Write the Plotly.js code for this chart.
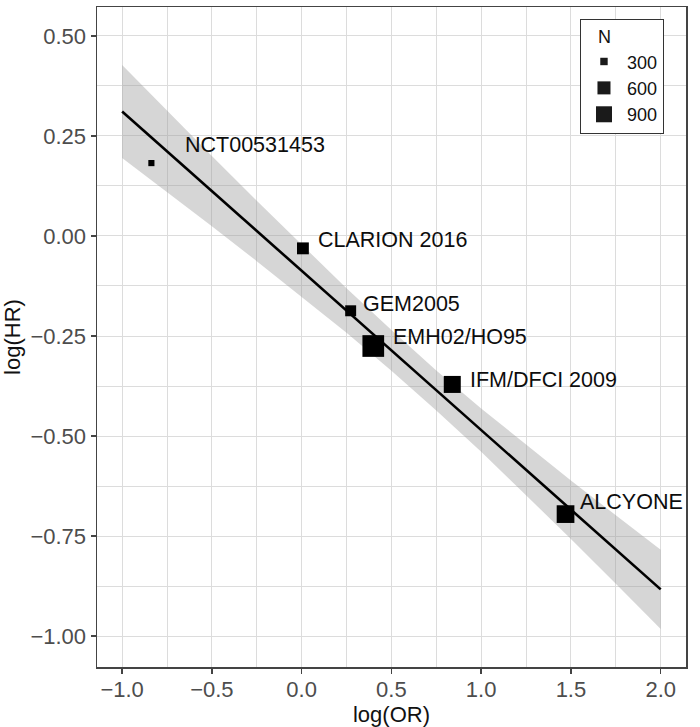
<!DOCTYPE html>
<html>
<head>
<meta charset="utf-8">
<script src="https://cdn.plot.ly/plotly-3.0.1.min.js"></script>
<style>
  html, body { margin: 0; padding: 0; background: #ffffff; }
  #chart { width: 700px; height: 727px; }
</style>
</head>
<body>
<div id="chart"></div>
<script>
// ---- Data ----
var trials = ["NCT00531453", "CLARION 2016", "GEM2005", "EMH02/HO95", "IFM/DFCI 2009", "ALCYONE"];
var logOR  = [-0.837, 0.007, 0.273, 0.399, 0.839, 1.470];
var logHR  = [0.182, -0.031, -0.187, -0.275, -0.371, -0.695];
var sampleN = [290, 590, 530, 1550, 1020, 1090];

// fitted line and its confidence band
var bandX     = [-1.0, -0.75, -0.5, -0.25, 0.0, 0.25, 0.5, 0.75, 1.0, 1.25, 1.5, 1.75, 2.0];
var fitY      = [0.311, 0.2115, 0.112, 0.0125, -0.087, -0.1865, -0.286, -0.3855, -0.485, -0.5845, -0.684, -0.7835, -0.883];
var bandUpper = [0.427, 0.313, 0.200, 0.088, -0.022, -0.131, -0.235, -0.336, -0.431, -0.522, -0.611, -0.698, -0.784];
var bandLower = [0.195, 0.110, 0.024, -0.063, -0.152, -0.242, -0.337, -0.436, -0.539, -0.647, -0.757, -0.869, -0.982];

var legendN = [300, 600, 900];

// label offsets in pixels (dx right, dy up)
var labelDx = [32, 13, 10, 18, 16, 12];
var labelDy = [18, 8, 7, 9, 4, 12];

// ---- Styling ----
var FONT = "Liberation Sans, Arial, Helvetica, sans-serif";
var NBSP = "\u00a0";
function sizeFor(n) { return Math.sqrt(-62 + 0.344 * n); }

var traces = [];
traces.push({
  x: bandX, y: bandLower, mode: "lines", line: {width: 0, color: "rgba(0,0,0,0)"},
  showlegend: false, hoverinfo: "skip"
});
traces.push({
  x: bandX, y: bandUpper, mode: "lines", line: {width: 0, color: "rgba(0,0,0,0)"},
  fill: "tonexty", fillcolor: "rgba(153,153,153,0.4)",
  showlegend: false, hoverinfo: "skip"
});
traces.push({
  x: bandX, y: fitY, mode: "lines", line: {width: 2.6, color: "#000000"},
  showlegend: false, hoverinfo: "skip"
});
traces.push({
  x: logOR, y: logHR, mode: "markers", text: trials,
  marker: {symbol: "square", size: sampleN.map(sizeFor), color: "#000000", opacity: 1, line: {width: 0}},
  showlegend: false
});
legendN.forEach(function (n) {
  traces.push({
    x: [null], y: [null], mode: "markers", name: String(n),
    marker: {symbol: "square", size: sizeFor(n) + 1, color: "#1a1a1a", opacity: 1, line: {width: 0}},
    showlegend: true
  });
});

var annotations = trials.map(function (t, i) {
  return {
    x: logOR[i], y: logHR[i], xref: "x", yref: "y",
    text: t, showarrow: false, xanchor: "left", yanchor: "middle",
    xshift: labelDx[i], yshift: labelDy[i],
    font: {family: FONT, size: 21.5, color: "#0d0d0d"}
  };
});

var axisCommon = {
  showgrid: true, gridcolor: "#dcdcdc", gridwidth: 1,
  zeroline: false, showline: true, mirror: true, linecolor: "#444444", linewidth: 1.5,
  ticks: "outside", ticklen: 5, tickwidth: 1.5, tickcolor: "#444444",
  tickfont: {family: FONT, size: 22, color: "#4d4d4d"}
};

var layout = {
  width: 700, height: 727,
  margin: {l: 97, r: 14, t: 7, b: 60},
  paper_bgcolor: "#ffffff", plot_bgcolor: "#ffffff",
  font: {family: FONT},
  showlegend: true,
  legend: {
    x: 0.82, y: 0.982, xanchor: "left", yanchor: "top",
    bgcolor: "#ffffff", bordercolor: "#333333", borderwidth: 1,
    font: {family: FONT, size: 18, color: "#111111"},
    title: {text: NBSP + NBSP + NBSP + "N", font: {family: FONT, size: 18, color: "#111111"}},
    itemsizing: "trace", itemwidth: 36, traceorder: "normal",
    entrywidth: 40, entrywidthmode: "pixels"
  },
  xaxis: Object.assign({}, axisCommon, {
    range: [-1.14, 2.141], dtick: 0.5, tick0: 0, tickformat: ".1f",
    ticklabelstandoff: -3,
    minor: {dtick: 0.25, showgrid: true, gridcolor: "#dcdcdc", gridwidth: 1, ticks: ""},
    title: {text: "log(OR)", standoff: 5, font: {family: FONT, size: 22, color: "#111111"}},
    automargin: false
  }),
  yaxis: Object.assign({}, axisCommon, {
    range: [-1.077, 0.572], dtick: 0.25, tick0: 0, tickformat: ".2f",
    minor: {dtick: 0.125, showgrid: true, gridcolor: "#dcdcdc", gridwidth: 1, ticks: ""},
    title: {text: "log(HR)", standoff: 8, font: {family: FONT, size: 22, color: "#111111"}},
    automargin: false
  }),
  annotations: annotations,
  hovermode: false
};

Plotly.newPlot("chart", traces, layout, {displayModeBar: false, staticPlot: true});
</script>
</body>
</html>
